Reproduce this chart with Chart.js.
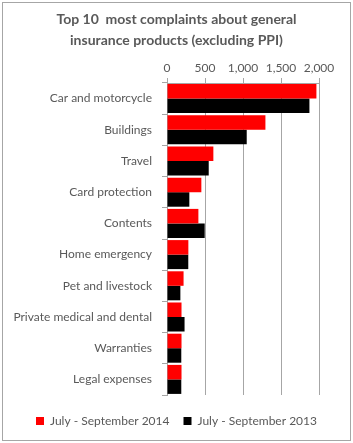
<!DOCTYPE html>
<html>
<head>
<meta charset="utf-8">
<script src="https://cdn.jsdelivr.net/npm/chart.js@4"></script>
<style>
  html, body { margin: 0; padding: 0; background: #fff; }
  #wrap { position: relative; width: 353px; height: 443px; }
  #frame {
    position: absolute; left: 2px; top: 2px; width: 347px; height: 437px;
    border: 1px solid #a6a6a6; pointer-events: none;
  }
</style>
</head>
<body>
<div id="wrap">
  <canvas id="complaintsChart" width="353" height="443"></canvas>
  <div id="frame"></div>
</div>
<script>
// ── data ──────────────────────────────
const products = [
  'Car and motorcycle', 'Buildings', 'Travel', 'Card protection', 'Contents',
  'Home emergency', 'Pet and livestock', 'Private medical and dental',
  'Warranties', 'Legal expenses'
];
const complaints2014 = [1966, 1295, 610, 452, 413, 281, 218, 191, 191, 191];
const complaints2013 = [1874, 1049, 549, 294, 496, 280, 176, 231, 188, 188];
const seriesNames = ['July - September 2014', 'July - September 2013'];
const titleLines = ['Top 10  most complaints about general', 'insurance products (excluding PPI)'];

const GREY = '#595959';
const LINE = '#a6a6a6';
const FONT = 'Lato, "Open Sans", sans-serif';

// title and legend are centred on the whole frame, not just the plot;
// legend sits a little lower than the layout puts it
const fullWidthBoxes = {
  id: 'fullWidthBoxes',
  afterLayout(chart) {
    [chart.titleBlock, chart.legend].forEach(b => {
      if (!b) return;
      b.left = 0;
      b.right = chart.width;
      b.width = chart.width;
    });
    if (chart.legend) {
      chart.legend.top += 6;
      chart.legend.bottom += 6;
    }
  }
};

const ctx = document.getElementById('complaintsChart').getContext('2d');

new Chart(ctx, {
  type: 'bar',
  data: {
    labels: products,
    datasets: [
      {
        label: seriesNames[0],
        data: complaints2014,
        backgroundColor: '#ff0000',
        barPercentage: 1,
        categoryPercentage: 0.93
      },
      {
        label: seriesNames[1],
        data: complaints2013,
        backgroundColor: '#000000',
        barPercentage: 1,
        categoryPercentage: 0.93
      }
    ]
  },
  plugins: [fullWidthBoxes],
  options: {
    indexAxis: 'y',
    responsive: false,
    animation: false,
    layout: { padding: { left: 0, right: 34, top: 0, bottom: 12 } },
    plugins: {
      title: {
        display: true,
        text: titleLines,
        color: GREY,
        font: { family: FONT, size: 14, weight: 'bold', lineHeight: 1.5 },
        padding: { top: 9, bottom: 4 }
      },
      legend: {
        position: 'bottom',
        labels: {
          color: GREY,
          font: { family: FONT, size: 12 },
          boxWidth: 8,
          boxHeight: 8,
          padding: 14
        }
      },
      tooltip: { enabled: false }
    },
    scales: {
      x: {
        position: 'top',
        min: 0,
        max: 2000,
        afterFit: s => { s.height = 28; },
        ticks: {
          stepSize: 500,
          color: GREY,
          font: { family: FONT, size: 12 },
          padding: 3,
          maxRotation: 0,
          callback: v => v.toLocaleString('en-US')
        },
        grid: { color: LINE, lineWidth: 1, tickLength: 5 },
        border: { display: true, color: LINE }
      },
      y: {
        afterFit: s => { s.width = 167; },
        ticks: {
          color: GREY,
          font: { family: FONT, size: 12 },
          padding: 10
        },
        grid: { offset: true, drawOnChartArea: false, color: LINE, tickLength: 5 },
        border: { display: true, color: LINE }
      }
    }
  }
});
</script>
</body>
</html>
